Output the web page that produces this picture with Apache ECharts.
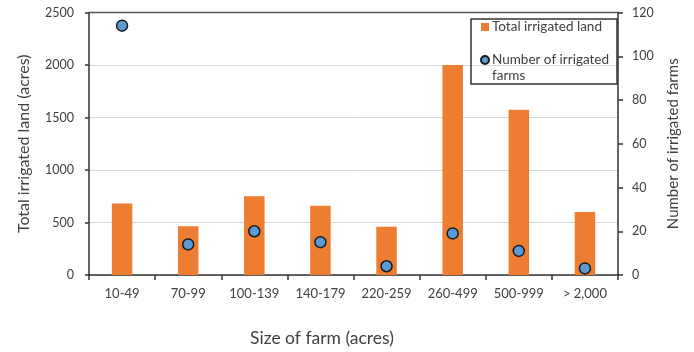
<!DOCTYPE html>
<html>
<head>
<meta charset="utf-8">
<script src="https://cdn.jsdelivr.net/npm/echarts@6/dist/echarts.min.js"></script>
<style>
  html, body { margin: 0; padding: 0; background: #fff; }
  #chart { width: 694px; height: 352px; }
</style>
</head>
<body>
<div id="chart"></div>
<script>
// Farm size classes (acres)
const categories = ['10-49', '70-99', '100-139', '140-179', '220-259', '260-499', '500-999', '> 2,000'];
// Total irrigated land per class (acres)
const irrigatedLand = [680, 465, 750, 660, 460, 2000, 1575, 600];
// Number of irrigated farms per class
const irrigatedFarms = [114, 14, 20, 15, 4, 19, 11, 3];

const FONT = 'Lato';
const TEXT = '#404040';
const AXIS = '#333333';

const chart = echarts.init(document.getElementById('chart'), null, { renderer: 'canvas' });

chart.setOption({
  animation: false,
  backgroundColor: '#ffffff',
  textStyle: { fontFamily: FONT, color: TEXT },
  grid: { left: 89, right: 76, top: 12.5, bottom: 74.3, show: false },
  legend: {
    orient: 'vertical',
    left: 471,
    top: 19,
    width: 140,
    padding: [0, 8, 0, 9],
    itemGap: 1,
    itemWidth: 8,
    itemHeight: 8,
    borderColor: AXIS,
    borderWidth: 1.5,
    textStyle: { fontFamily: FONT, fontSize: 13.5, color: TEXT, padding: [0, 0, 0, -2], lineHeight: 16 },
    // the leading blank line keeps the marker level with the first line of the wrapped label
    formatter: name => name === 'Number of irrigated farms' ? '\nNumber of irrigated\nfarms' : name,
    data: [
      { name: 'Total irrigated land', icon: 'rect' },
      { name: 'Number of irrigated farms', icon: 'circle' }
    ]
  },
  xAxis: {
    type: 'category',
    data: categories,
    name: 'Size of farm (acres)',
    nameLocation: 'middle',
    nameGap: 54,
    nameTextStyle: { fontFamily: FONT, fontSize: 17.5, color: TEXT, padding: [0, 63, 0, 0] },
    axisLine: { lineStyle: { color: AXIS, width: 1.5 } },
    axisTick: { show: true, length: 5, lineStyle: { color: AXIS, width: 1.5 } },
    axisLabel: { fontFamily: FONT, fontSize: 13, color: TEXT, margin: 12 }
  },
  yAxis: [
    {
      type: 'value',
      min: 0, max: 2500, interval: 500,
      name: 'Total irrigated land (acres)',
      nameLocation: 'middle',
      nameGap: 57.5,
      nameTextStyle: { fontFamily: FONT, fontSize: 16, color: TEXT },
      axisLine: { show: true, lineStyle: { color: AXIS, width: 1.5 } },
      axisTick: { show: true, length: 4, lineStyle: { color: AXIS, width: 1.5 } },
      axisLabel: { fontFamily: FONT, fontSize: 12.5, color: TEXT, margin: 15, formatter: v => String(v) },
      splitLine: { show: true, lineStyle: { color: '#d9d9d9', width: 1 } }
    },
    {
      type: 'value',
      min: 0, max: 120, interval: 20,
      name: 'Number of irrigated farms',
      nameLocation: 'middle',
      nameGap: 48,
      nameRotate: 90,
      nameTextStyle: { fontFamily: FONT, fontSize: 15, color: TEXT },
      axisLine: { show: true, lineStyle: { color: AXIS, width: 1.5 } },
      axisTick: { show: true, length: 5, lineStyle: { color: AXIS, width: 1.5 } },
      axisLabel: { fontFamily: FONT, fontSize: 12.5, color: TEXT, margin: 14 },
      splitLine: { show: false }
    }
  ],
  graphic: [
    // dark top edge of the plot frame
    {
      type: 'line',
      shape: { x1: 89, y1: 12.5, x2: 618, y2: 12.5 },
      style: { stroke: '#555555', lineWidth: 1.5 },
      z: 10
    }
  ],
  series: [
    {
      name: 'Total irrigated land',
      type: 'bar',
      yAxisIndex: 0,
      data: irrigatedLand,
      barWidth: '31%',
      itemStyle: { color: '#ED7D31' }
    },
    {
      name: 'Number of irrigated farms',
      type: 'scatter',
      yAxisIndex: 1,
      data: irrigatedFarms,
      symbol: 'circle',
      symbolSize: 11,
      itemStyle: { color: '#5B9BD5', borderColor: '#1a1a1a', borderWidth: 1.5, opacity: 1 },
      z: 5
    }
  ]
});
</script>
</body>
</html>
